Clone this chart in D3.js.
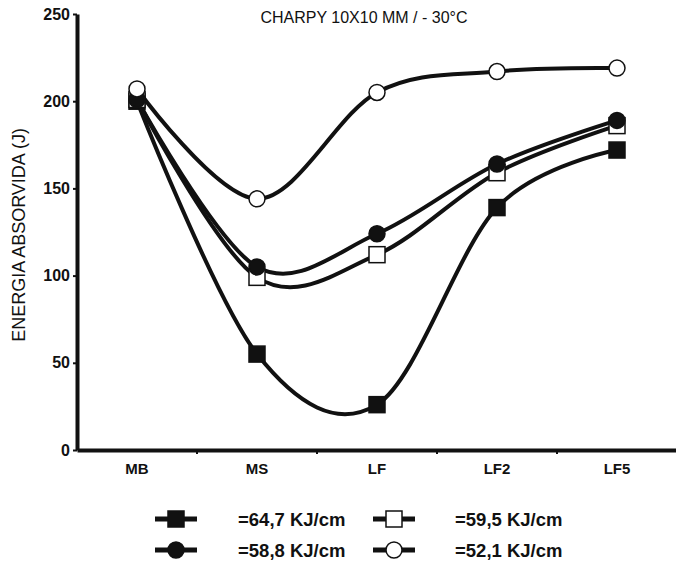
<!DOCTYPE html>
<html>
<head>
<meta charset="utf-8">
<script src="https://cdn.jsdelivr.net/npm/d3@7"></script>
<style>
  html, body { margin: 0; padding: 0; background: #fff; }
  svg { display: block; font-family: Arial, "Liberation Sans", sans-serif; }
</style>
</head>
<body>
<svg id="chart" width="676" height="567"></svg>
<script>
// Weld zones along the joint
const categories = ["MB", "MS", "LF", "LF2", "LF5"];
const yTicks = [0, 50, 100, 150, 200, 250];

// Absorbed energy (J) for each heat input
const heat647 = [200, 55, 26, 139, 172];
const heat588 = [201, 105, 124, 164, 189];
const heat595 = [201, 99, 112, 159, 186];
const heat521 = [207, 144, 205, 217, 219];

const seriesLabels = ["=64,7 KJ/cm", "=58,8 KJ/cm", "=59,5 KJ/cm", "=52,1 KJ/cm"];

const series = [
  { label: seriesLabels[0], values: heat647, shape: "square", fill: "#111" },
  { label: seriesLabels[1], values: heat588, shape: "circle", fill: "#111" },
  { label: seriesLabels[2], values: heat595, shape: "square", fill: "#fff" },
  { label: seriesLabels[3], values: heat521, shape: "circle", fill: "#fff" }
];
// markers are stacked: filled square, open square, filled circle, open circle
const markerOrder = [0, 2, 1, 3];

const svg = d3.select("#chart");
const ink = "#111";

const x = d3.scaleBand().domain(categories).range([77, 677]).paddingInner(0).paddingOuter(0);
const y = d3.scaleLinear().domain([0, 250]).range([450, 14]);
const cx = c => x(c) + x.bandwidth() / 2;

// Axes
const yAxis = svg.append("g").attr("transform", "translate(77,0)")
  .call(d3.axisLeft(y).tickValues(yTicks).tickSize(4).tickSizeOuter(0));
yAxis.select(".domain").attr("stroke", ink).attr("stroke-width", 4);
yAxis.selectAll(".tick line").attr("stroke", ink).attr("stroke-width", 2);
yAxis.selectAll(".tick text")
  .attr("x", -7).attr("font-size", 16).attr("font-weight", "bold").attr("fill", ink);

const xAxis = svg.append("g").attr("transform", "translate(0,450)")
  .call(d3.axisBottom(x).tickSize(0).tickSizeOuter(0));
xAxis.select(".domain").attr("stroke", ink).attr("stroke-width", 4);
xAxis.selectAll(".tick text")
  .attr("y", 13).attr("font-size", 15).attr("font-weight", "bold").attr("fill", ink);
// small ticks between zones
svg.append("g").selectAll("line").data(categories)
  .join("line")
  .attr("x1", d => x(d) + x.bandwidth())
  .attr("x2", d => x(d) + x.bandwidth())
  .attr("y1", 450).attr("y2", 454)
  .attr("stroke", ink).attr("stroke-width", 2);

// Titles
svg.append("text").attr("x", 364).attr("y", 23).attr("text-anchor", "middle")
  .attr("font-size", 16).attr("fill", ink).text("CHARPY 10X10 MM / - 30°C");
svg.append("text").attr("transform", "translate(25,235) rotate(-90)")
  .attr("text-anchor", "middle").attr("font-size", 18).attr("fill", ink)
  .text("ENERGIA ABSORVIDA (J)");

// Curves (uniform Catmull-Rom through the points)
const line = d3.line()
  .x((d, i) => cx(categories[i]))
  .y(d => y(d))
  .curve(d3.curveCardinal.tension(0));

const plot = svg.append("g");
series.forEach(s => {
  plot.append("path").datum(s.values)
    .attr("d", line).attr("fill", "none")
    .attr("stroke", ink).attr("stroke-width", 4);
});

function drawMarker(g, shape, fill, px, py, size) {
  if (shape === "square") {
    g.append("rect").attr("x", px - size / 2).attr("y", py - size / 2)
      .attr("width", size).attr("height", size)
      .attr("fill", fill).attr("stroke", ink).attr("stroke-width", 1.5);
  } else {
    g.append("circle").attr("cx", px).attr("cy", py).attr("r", size / 2)
      .attr("fill", fill).attr("stroke", ink).attr("stroke-width", 1.5);
  }
}

markerOrder.forEach(k => {
  const s = series[k];
  s.values.forEach((v, i) => drawMarker(plot, s.shape, s.fill, cx(categories[i]), y(v), 16));
});

// Legend
const legendPos = [
  { sx: 176, tx: 238, ty: 519 },
  { sx: 176, tx: 238, ty: 550 },
  { sx: 394, tx: 455, ty: 519 },
  { sx: 394, tx: 455, ty: 550 }
];
const legend = svg.append("g");
series.forEach((s, i) => {
  const p = legendPos[i];
  legend.append("line").attr("x1", p.sx - 21).attr("x2", p.sx + 21)
    .attr("y1", p.ty).attr("y2", p.ty).attr("stroke", ink).attr("stroke-width", 5);
  drawMarker(legend, s.shape, s.fill, p.sx, p.ty, 16);
  legend.append("text").attr("x", p.tx).attr("y", p.ty).attr("dy", "0.36em")
    .attr("font-size", 18.5).attr("font-weight", "bold").attr("fill", ink).text(s.label);
});
</script>
</body>
</html>
